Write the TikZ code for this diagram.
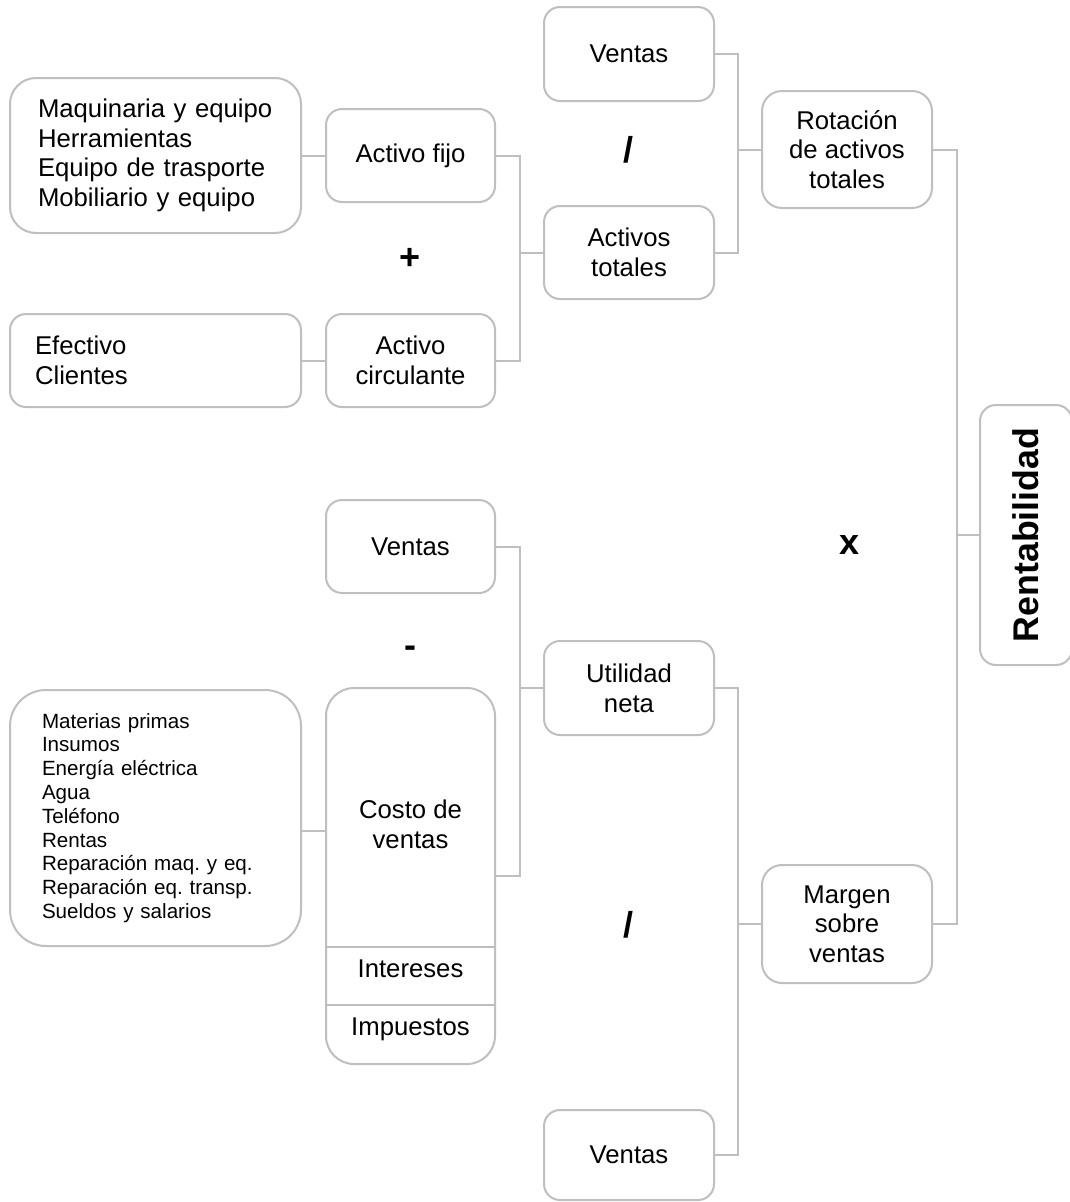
\documentclass[tikz,border=0pt]{standalone}
\usepackage{fontspec}
\setmainfont{Liberation Sans}
\frenchspacing
\definecolor{linegray}{RGB}{191,191,191}
\newcommand\fbig{\fontsize{25.7}{29.7}\selectfont}
\newcommand\fsmall{\fontsize{20.6}{23.8}\selectfont}
\newcommand\fsign{\fontsize{36}{40}\selectfont\bfseries}
\begin{document}
\begin{tikzpicture}[x=1pt,y=-1pt,
  box/.style={draw=linegray, line width=2pt, fill=white, rounded corners=16pt,
    inner sep=0pt, align=center, font=\fbig},
  smallbox/.style={box, minimum width=170pt, minimum height=93pt},
  tallbox/.style={box, rounded corners=20pt, minimum width=170pt, minimum height=117pt},
  listbox/.style={box, align=left, minimum height=#1},
  conn/.style={draw=linegray, line width=2pt},
  sign/.style={font=\fsign, inner sep=0pt}
]
\useasboundingbox (0,0) rectangle (1070,1202);
\clip (0,0) rectangle (1070,1202);

% ---- activos ----
\node[listbox=155pt, rounded corners=26pt, inner xsep=28pt, text width=235pt] (maq) at (155.5,155.5)
  {Maquinaria y equipo\\Herramientas\\Equipo de trasporte\\Mobiliario y equipo};
\node[listbox=93pt, inner xsep=25pt, text width=241pt] (efe) at (155.5,360.5)
  {Efectivo\\Clientes};
\node[smallbox, minimum width=169pt] (fijo) at (410.5,155.5) {Activo fijo};
\node[smallbox, minimum width=169pt] (circ) at (410.5,360.5) {Activo\\circulante};
\node[sign] (plus) at (410,258.5) {+};

\node[smallbox, minimum height=94pt] (v1) at (629,54) {Ventas};
\node[smallbox] (at) at (629,252.5) {Activos\\totales};
\node[sign] (div1) at (628.5,150) {/};
\node[tallbox] (rot) at (847,149.5) {Rotación\\de activos\\totales};

% ---- utilidad ----
\node[smallbox, minimum width=169pt] (v2) at (410.5,546.5) {Ventas};
\node[sign] (minus) at (410,652) {-};
\node[box, rounded corners=28pt, minimum width=169pt, minimum height=376pt] (costo) at (410.5,876) {};
\node[font=\fbig, align=center, inner sep=0pt] (cvtxt) at (410.5,824) {Costo de\\ventas};
\draw[conn] (costo.west |- 0,946.5) -- (costo.east |- 0,946.5);
\draw[conn] (costo.west |- 0,1004.5) -- (costo.east |- 0,1004.5);
\node[font=\fbig, inner sep=0pt] (int) at (410.5,969) {Intereses};
\node[font=\fbig, inner sep=0pt] (imp) at (410.5,1029) {Impuestos};
\node[listbox=256pt, rounded corners=36pt, inner xsep=32pt, text width=227pt, font=\fsmall] (lst) at (155.5,818)
  {Materias primas\\Insumos\\Energía eléctrica\\Agua\\Teléfono\\Rentas\\Reparación maq. y eq.\\Reparación eq. transp.\\Sueldos y salarios};

\node[smallbox, minimum height=94pt] (un) at (629,688) {Utilidad\\neta};
\node[sign] (div2) at (628.5,925) {/};
\node[smallbox, minimum height=90pt] (v3) at (629,1155) {Ventas};
\node[tallbox, minimum height=118pt] (mar) at (847,924) {Margen\\sobre\\ventas};

% ---- resultado ----
\node[sign] (times) at (850,545) {x};
\node[box, minimum width=92pt, minimum height=260pt] (rent) at (1026,535) {};
\node[font=\fontsize{35.7}{40}\selectfont\bfseries, rotate=90, inner sep=0pt] (renttxt) at (rent.center) {Rentabilidad};

% ---- connectors ----
\coordinate (xA) at (520,0);
\coordinate (xB) at (738,0);
\coordinate (xC) at (957,0);
\coordinate (ycv) at (0,831);

\draw[conn] (maq.east) -- (fijo.west);
\draw[conn] (efe.east) -- (circ.west);
\draw[conn] (fijo.east) -| (xA |- circ.east) -- (circ.east);
\draw[conn] (xA |- at.west) -- (at.west);

\draw[conn] (v1.east) -| (xB |- at.east) -- (at.east);
\draw[conn] (xB |- rot.west) -- (rot.west);

\draw[conn] (lst.east |- ycv) -- (costo.west |- ycv);
\draw[conn] (v2.east) -| (xA |- costo.east) -- (costo.east);
\draw[conn] (xA |- un.west) -- (un.west);

\draw[conn] (un.east) -| (xB |- v3.east) -- (v3.east);
\draw[conn] (xB |- mar.west) -- (mar.west);

\draw[conn] (rot.east) -| (xC |- mar.east) -- (mar.east);
\draw[conn] (xC |- rent.west) -- (rent.west);
\end{tikzpicture}
\end{document}
